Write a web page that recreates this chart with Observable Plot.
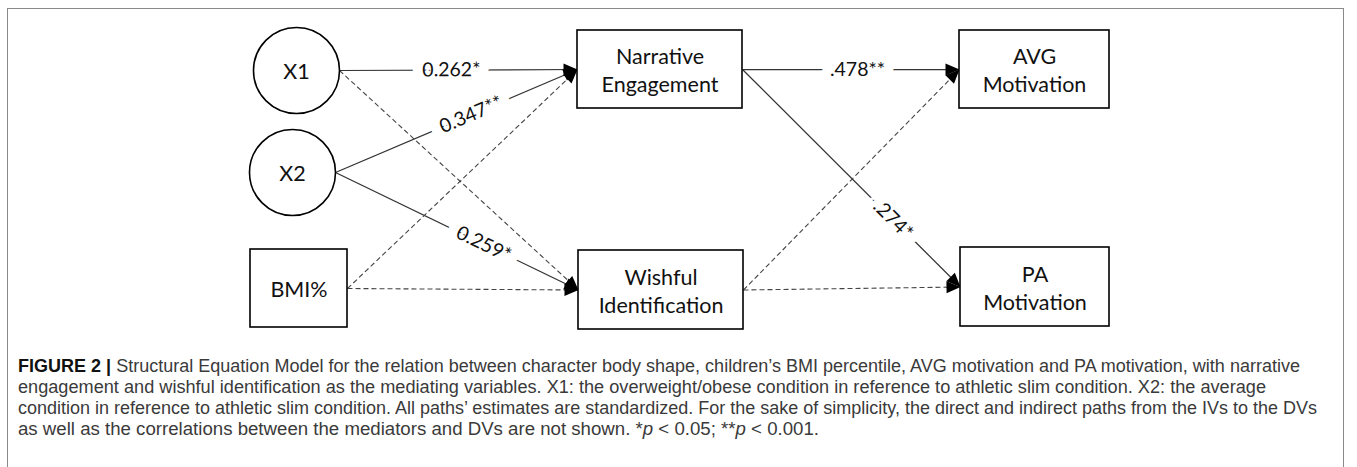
<!DOCTYPE html>
<html>
<head>
<meta charset="utf-8">
<script src="https://cdn.jsdelivr.net/npm/d3@7"></script>
<script src="https://cdn.jsdelivr.net/npm/@observablehq/plot@0.6"></script>
<style>
  html, body { margin: 0; padding: 0; background: #fff; overflow: hidden; }
  #page { position: relative; width: 1357px; height: 467px; }
  #frame { position: absolute; left: 7px; top: 8px; width: 1337px; height: 490px;
           border: 1.5px solid #8a8a8a; box-sizing: border-box; }
  #chart { position: absolute; left: 0; top: 0; }
  #caption { position: absolute; left: 18px; top: 356px; font-family: "Liberation Sans", Arial, sans-serif;
             font-size: 17.5px; line-height: 21px; color: #3a3a3a; }
  #caption .l { white-space: nowrap; transform-origin: 0 50%; width: max-content; }
  #caption b { color: #111; }
</style>
</head>
<body>
<div id="page">
  <div id="frame"></div>
  <div id="chart"></div>
  <div id="caption">
    <div class="l"><b>FIGURE 2 |</b> Structural Equation Model for the relation between character body shape, children’s BMI percentile, AVG motivation and PA motivation, with narrative</div>
    <div class="l">engagement and wishful identification as the mediating variables. X1: the overweight/obese condition in reference to athletic slim condition. X2: the average</div>
    <div class="l">condition in reference to athletic slim condition. All paths’ estimates are standardized. For the sake of simplicity, the direct and indirect paths from the IVs to the DVs</div>
    <div class="l">as well as the correlations between the mediators and DVs are not shown. *<i>p</i> &lt; 0.05; **<i>p</i> &lt; 0.001.</div>
  </div>
</div>
<script>
// ---- data ----
const nodeNames = ["X1", "X2", "BMI%", "Narrative\nEngagement", "Wishful\nIdentification", "AVG\nMotivation", "PA\nMotivation"];
const nodeShapes = ["circle", "circle", "box", "box", "box", "box", "box"];
const edgeFrom = [0, 0, 1, 1, 2, 2, 3, 3, 4, 4];
const edgeTo   = [3, 4, 3, 4, 3, 4, 5, 6, 5, 6];
const edgeCoef = ["0.262*", "", "0.347**", "0.259*", "", "", ".478**", ".274*", "", ""];
const edgeSignificant = [true, false, true, true, false, false, true, true, false, false];

// ---- layout (diagram geometry, in the scales' units) ----
const layout = {
  cx:    [296, 292, 298.5, 659.5, 660.5, 1034, 1034.5],
  cy:    [70, 172, 288, 69, 289.5, 69, 286.5],
  halfW: [43, 43, 48.5, 82.5, 82.5, 75, 74.5],
  halfH: [43, 43, 39, 39, 39.5, 39, 39.5],
  labelAt: [0.47, null, 0.56, 0.61, null, null, 0.53, 0.69, null, null]
};
const captionWidths = [1282, 1248, 1299, 801];

const nodes = nodeNames.map((name, i) => ({
  name, shape: nodeShapes[i], cx: layout.cx[i], cy: layout.cy[i],
  x1: layout.cx[i] - layout.halfW[i], x2: layout.cx[i] + layout.halfW[i],
  y1: layout.cy[i] - layout.halfH[i], y2: layout.cy[i] + layout.halfH[i]
}));
const edges = edgeFrom.map((f, i) => {
  const s = nodes[f], t = nodes[edgeTo[i]];
  const xa = s.x2, ya = s.cy, xb = t.x1, yb = t.cy;
  const ang = Math.atan2(yb - ya, xb - xa) * 180 / Math.PI;
  const k = layout.labelAt[i];
  return { xa, ya, xb, yb, ang, coef: edgeCoef[i], sig: edgeSignificant[i],
           lx: k == null ? null : xa + k * (xb - xa), ly: k == null ? null : ya + k * (yb - ya) };
});

const arrowHead = { draw(ctx) { ctx.moveTo(0, 0); ctx.lineTo(6, 14); ctx.lineTo(-6, 14); ctx.closePath(); } };
const font = "Lato, 'Open Sans', sans-serif";

const chart = Plot.plot({
  width: 1357, height: 345, margin: 0,
  x: { domain: [0, 1357], range: [0, 1357], axis: null },
  y: { domain: [0, 345], range: [0, 345], axis: null },
  style: { background: "transparent", overflow: "visible" },
  marks: [
    Plot.link(edges.filter(d => d.sig), { x1: "xa", y1: "ya", x2: "xb", y2: "yb", stroke: "#333", strokeWidth: 1.25 }),
    Plot.text(edges.filter(d => d.coef), { x: "lx", y: "ly", text: "coef", rotate: "ang",
      fontFamily: font, fontSize: 19.5, fill: "#111", stroke: "white", strokeWidth: 20, strokeLinejoin: "round" }),
    Plot.link(edges.filter(d => !d.sig), { x1: "xa", y1: "ya", x2: "xb", y2: "yb", stroke: "#444", strokeWidth: 1.1,
      strokeDasharray: "5,3" }),
    Plot.dot(edges, { x: "xb", y: "yb", symbol: arrowHead, rotate: d => d.ang + 90, fill: "#000", stroke: "none", r: 5 }),
    Plot.rect(nodes.filter(d => d.shape === "box"), { x1: "x1", x2: "x2", y1: "y1", y2: "y2",
      fill: "white", stroke: "#000", strokeWidth: 1.6 }),
    Plot.dot(nodes.filter(d => d.shape === "circle"), { x: "cx", y: "cy", r: 43,
      fill: "white", stroke: "#000", strokeWidth: 1.6 }),
    Plot.text(nodes, { x: "cx", y: "cy", text: "name", fontFamily: font, fontSize: 21.5, lineHeight: 1.3, fill: "#111" })
  ]
});
document.getElementById("chart").appendChild(chart);

// fit caption lines to their measured widths in the original
document.querySelectorAll("#caption .l").forEach((el, i) => {
  const w = el.getBoundingClientRect().width;
  el.style.transform = `scaleX(${captionWidths[i] / w})`;
});
</script>
</body>
</html>
